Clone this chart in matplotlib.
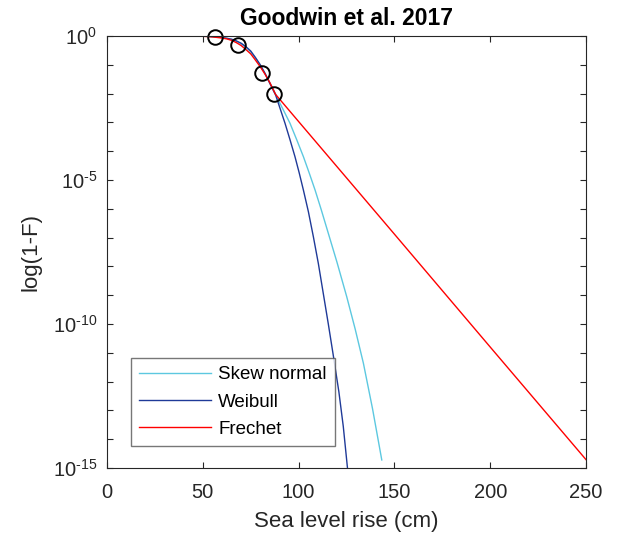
import numpy as np
import matplotlib
matplotlib.use("Agg")
import matplotlib.pyplot as plt
from matplotlib.ticker import FixedLocator, FuncFormatter, NullLocator

plt.rcParams['font.family'] = ['Liberation Sans', 'DejaVu Sans']
plt.rcParams['mathtext.fontset'] = 'custom'
plt.rcParams['mathtext.rm'] = 'Liberation Sans'
plt.rcParams['mathtext.it'] = 'Liberation Sans'
plt.rcParams['mathtext.bf'] = 'Liberation Sans:bold'

# Exceedance curves: sea level rise (cm) and log10(1-F)
skew_x = [0, 45, 50, 55, 57.5, 60, 62.5, 65, 67.5, 70, 72.5, 75, 77.5, 80,
          82.5, 85, 88, 90, 92.5, 95.5, 99, 102.5, 105.5, 108.6, 111.8, 115.0,
          120.0, 125.1, 129.5, 133.8, 138.6, 143.4]
skew_log = [0, 0, -0.005, -0.02, -0.03, -0.05, -0.08, -0.12, -0.18, -0.27,
            -0.39, -0.55, -0.77, -1.02, -1.31, -1.62, -2.02, -2.3, -2.63,
            -3.03, -3.6, -4.19, -4.75, -5.35, -6.03, -6.74, -7.85, -9.05,
            -10.17, -11.36, -12.95, -14.72]

weib_x = [0, 45, 50, 55, 57.5, 60, 62.5, 65, 67.5, 70, 72.5, 75, 77.5, 80,
          82.5, 85, 88, 90.5, 92.9, 95.5, 98.1, 100.3, 102.5, 105.1, 107.7,
          110.3, 112.9, 115.5, 118.0, 121.0, 123.3, 125.5]
weib_log = [0, 0, -0.005, -0.02, -0.03, -0.05, -0.08, -0.11, -0.17, -0.25,
            -0.37, -0.52, -0.75, -1.0, -1.3, -1.65, -2.05, -2.55, -3.03,
            -3.6, -4.19, -4.75, -5.35, -6.1, -6.97, -7.9, -8.95, -10.0,
            -11.05, -12.35, -13.55, -15.0]

frec_x = [0, 45, 50, 55, 57.5, 60, 62.5, 65, 67.5, 70, 72.5, 75, 77.5, 80,
          82.5, 85, 88, 100, 150, 200, 250]
frec_log = [0, 0, -0.01, -0.03, -0.05, -0.07, -0.1, -0.15, -0.23, -0.33,
            -0.47, -0.62, -0.84, -1.07, -1.33, -1.62, -2.03, -2.97, -6.88,
            -10.80, -14.71]

# Published quantiles (cm) and their exceedance probabilities
quant_x = [56.4, 68.4, 80.9, 87.2]
quant_p = [0.95, 0.5, 0.05, 0.01]

x_ticks = [0, 50, 100, 150, 200, 250]
y_exponents = list(range(-15, 1))

fig = plt.figure(figsize=(6.2, 5.44), dpi=100)
ax = fig.add_axes([0.1726, 0.1397, 0.7726, 0.7941])

ax.semilogy(skew_x, 10.0 ** np.array(skew_log), color='#5cc8e0', lw=1.0,
            label='Skew normal')
ax.semilogy(weib_x, 10.0 ** np.array(weib_log), color='#1f3a98', lw=1.0,
            label='Weibull')
ax.semilogy(frec_x, 10.0 ** np.array(frec_log), color='#ff0000', lw=1.0,
            label='Frechet')
ax.plot(quant_x, quant_p, 'o', mfc='none', mec='black', mew=1.4, ms=10.5,
        clip_on=False)

ax.set_xlim(0, 250)
ax.set_ylim(1e-15, 1)

ax.xaxis.set_major_locator(FixedLocator(x_ticks))
ax.yaxis.set_major_locator(FixedLocator([10.0 ** e for e in y_exponents]))
ax.yaxis.set_minor_locator(NullLocator())
ax.xaxis.set_minor_locator(NullLocator())


def ylab(v, pos):
    e = int(round(np.log10(v)))
    if e % 5 != 0:
        return ''
    if e < 0:
        return '$10^{\u2010%d}$' % (-e)
    return '$10^{%d}$' % e


ax.yaxis.set_major_formatter(FuncFormatter(ylab))

axis_col = '#262626'
for s in ax.spines.values():
    s.set_color(axis_col)
    s.set_linewidth(0.8)
ax.tick_params(axis='both', which='both', direction='in', top=True,
               right=True, length=4, width=0.8, color=axis_col,
               labelcolor=axis_col, labelsize=14.5)
ax.tick_params(axis='x', pad=11)
ax.tick_params(axis='y', pad=7)

ax.set_xlabel('Sea level rise (cm)', fontsize=16, color=axis_col, labelpad=6)
ax.set_ylabel('log(1-F)', fontsize=16, color=axis_col, labelpad=8)
ax.set_title('Goodwin et al. 2017', fontsize=16.5, fontweight='bold',
             color='black', pad=8)

leg = ax.legend(loc='lower left', bbox_to_anchor=(0.05, 0.05), fontsize=13.5,
                frameon=True, fancybox=False, handlelength=3.8,
                handletextpad=0.4, borderpad=0.45, labelspacing=0.55,
                borderaxespad=0)
leg.get_frame().set_edgecolor('#555555')
leg.get_frame().set_linewidth(1.0)
for t in leg.get_texts():
    t.set_color('black')

fig.savefig('out.png', dpi=100)
